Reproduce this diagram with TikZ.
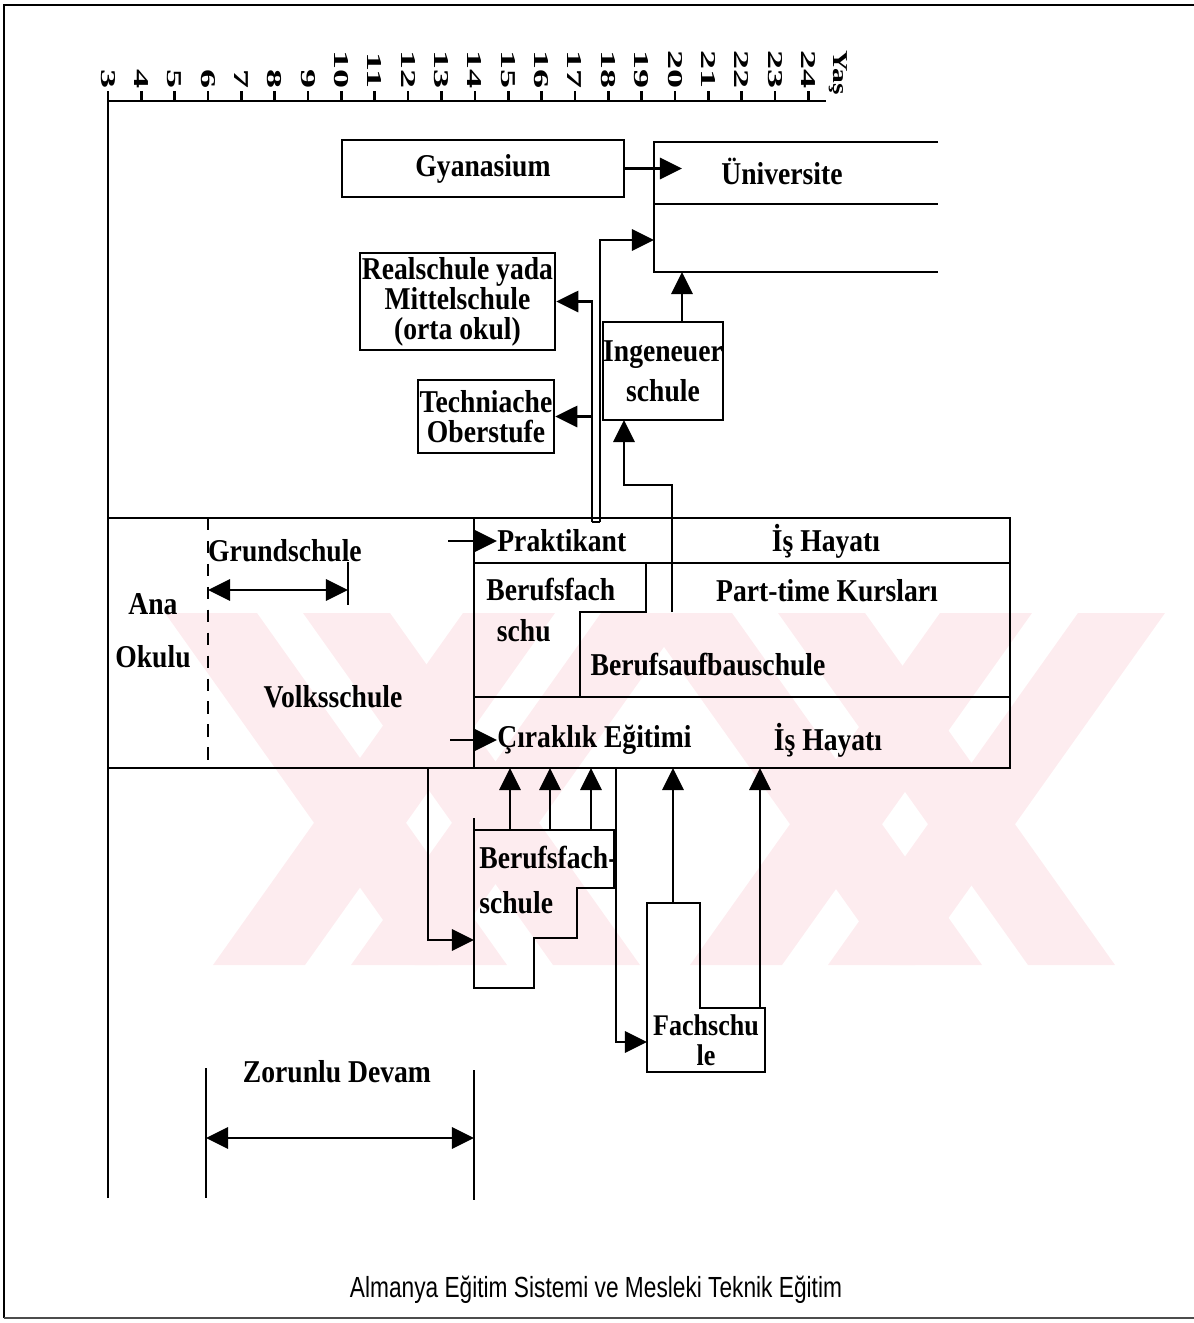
\documentclass[tikz,border=0pt]{standalone}
\usepackage{graphicx}
\usepackage{fontspec}
\setmainfont{Liberation Serif}
\newfontfamily\boxfont{Liberation Serif}[FakeStretch=0.87]
\newfontfamily\capfont{Liberation Sans}[FakeStretch=0.78]
\usetikzlibrary{arrows.meta}
\definecolor{wmark}{RGB}{253,236,239}
\newcommand{\pxu}{0.5669pt}

\tikzset{
  lab/.style={font=\boxfont\bfseries\fontsize{18}{17}\selectfont,inner sep=0pt,align=center},
  boxn/.style={lab,draw,line width=1.5pt},
  ln/.style={line width=1.5pt},
  arr/.style={line width=1.5pt,-{Triangle[length=12.5pt,width=12pt]}},
  darr/.style={line width=1.5pt,{Triangle[length=12.5pt,width=12pt]}-{Triangle[length=12.5pt,width=12pt]}},
  agelab/.style={font=\bfseries\fontsize{12}{12}\selectfont,rotate=-90,anchor=east,inner sep=0pt},
}

\begin{document}
\begin{tikzpicture}[x=0.5669pt,y=-0.5669pt,line join=miter]
\useasboundingbox (0,0) rectangle (1194,1323);

% watermark
\foreach \x/\d in {165/250,463/-250,640/250,940/-250} {
  \fill[wmark] (\x,613) -- ++(92,0) -- ++(\d,352) -- ++(-92,0) -- cycle;
  \fill[wmark] ({\x+138},613) -- ++(87,0) -- ++(\d,352) -- ++(-87,0) -- cycle;
}

% frame
\draw[line width=1.1pt] (4,1318) -- (4,5) -- (1194,5);
\draw[line width=1.1pt,black!70] (4,1318) -- (1194,1318);

% age axis
\draw[ln] (108,1198) -- (108,101) -- (826,101);
\foreach \a in {3,...,24} {
  \draw[ln] ({108+(\a-3)*33.35},91) -- ({108+(\a-3)*33.35},101);
  \node[agelab] (age\a) at ({108+(\a-3)*33.35},89) {\scalebox{1.8}[1]{\a}};
}
\node[agelab] (yas) at (838,95) {\scalebox{1.4}[1]{Yaş}};

% upper boxes
\node[boxn,minimum width=282*\pxu,minimum height=57*\pxu] (gym) at (483,168.5) {Gyanasium};
\draw[ln] (938,142) -- (654,142) -- (654,272) -- (938,272);
\draw[ln] (654,204) -- (938,204);
\node[lab] (uni) at (782,171) {Üniversite};
\coordinate (uniA) at (682,170);
\coordinate (uniB) at (654,240);
\coordinate (uniC) at (682,272);
\node[boxn,minimum width=195*\pxu,minimum height=97*\pxu] (real) at (457.5,301.5) {Realschule yada\\Mittelschule\\(orta okul)};
\node[boxn,minimum width=136*\pxu,minimum height=73*\pxu] (tech) at (486,416.5) {Techniache\\Oberstufe};
\node[boxn,minimum width=118*\pxu,minimum height=98*\pxu,font=\boxfont\bfseries\fontsize{18}{22.7}\selectfont] (ing) at (663,371) {Ingeneuer\\schule};

\draw[arr] (gym.east) -- (gym.east -| uniA);
\coordinate (dl) at (592,522);
\coordinate (dr) at (600,522);
\draw[ln] (dl) -- (dr);
\draw[arr] (dl) |- (real.east);
\draw[arr] (dl |- tech.east) -- (tech.east);
\draw[arr] (dr) |- (uniB);
\draw[arr] (ing.north -| uniC) -- (uniC);
\coordinate (pt) at (672,612);
\coordinate (ingIn) at (624,420);
\draw[arr] (pt) -- ++(0,-127) -| (ingIn);

% Volksschule and vocational bands
\draw[ln] (108,518) rectangle (1010,768);
\draw[ln] (474,518) -- (474,768);
\draw[ln] (474,563) -- (1010,563);
\draw[ln] (474,697) -- (1010,697);
\draw[ln] (646,563) -- (646,612) -- (580,612) -- (580,697);
\draw[line width=1.5pt,dash pattern=on 7pt off 6pt] (208,518) -- (208,768);

\node[lab,font=\boxfont\bfseries\fontsize{18}{30}\selectfont] (ana) at (153,631) {Ana\\Okulu};
\node[lab] (grund) at (285,551) {Grundschule};
\coordinate (g1) at (208,590);
\coordinate (g2) at (348,590);
\draw[darr] (g1) -- (g2);
\draw[ln] (g2) ++(0,-28) -- ++(0,43);
\node[lab] (volks) at (333,697) {Volksschule};

\coordinate (prakIn) at (448,541);
\node[lab,anchor=west] (prak) at (497,541) {Praktikant};
\draw[arr] (prakIn) -- (prak.west);
\node[lab] (isA) at (826,541) {İş Hayatı};
\node[lab,anchor=west,align=left,font=\boxfont\bfseries\fontsize{18}{22.7}\selectfont] (bfs) at (486,610) {Berufsfach\\\hspace{6pt}schu};
\node[lab] (ptk) at (827,591) {Part-time Kursları};
\node[lab] (bab) at (708,665) {Berufsaufbauschule};
\coordinate (cirIn) at (450,740);
\node[lab,anchor=west] (cir) at (497,740) {Çıraklık Eğitimi};
\draw[arr] (cirIn) -- (cir.west);
\node[lab] (isB) at (828,740) {İş Hayatı};

% lower schools
\coordinate (vsOut) at (428,768);
\coordinate (bfsIn) at (474,940);
\draw[arr] (vsOut) |- (bfsIn);
\draw[ln] (474,818) -- (474,988) -- (534,988) -- (534,938) -- (577,938) -- (577,888) -- (614,888) -- (614,830) -- (474,830);
\node[lab,anchor=west,align=left,font=\boxfont\bfseries\fontsize{18}{25.5}\selectfont] (bfs2) at (479,880) {Berufsfach-\\schule};
\foreach \x in {510,550,591}
  \draw[arr] (\x,830) -- (\x,768);

\coordinate (cirOut) at (616,768);
\coordinate (fachIn) at (647,1042);
\draw[arr] (cirOut) |- (fachIn);
\draw[ln] (647,903) -- (700,903) -- (700,1008) -- (765,1008) -- (765,1072) -- (647,1072) -- cycle;
\node[lab,font=\boxfont\bfseries\fontsize{17}{17}\selectfont] (fach) at (706,1040) {Fachschu\\le};
\draw[arr] (673,903) -- (673,768);
\draw[arr] (760,1008) -- (760,768);

% compulsory attendance
\coordinate (z1) at (206,1138);
\coordinate (z2) at (474,1138);
\draw[ln] (206,1068) -- (206,1198);
\draw[ln] (474,1070) -- (474,1200);
\draw[darr] (z1) -- (z2);
\node[lab] (zor) at (337,1072) {Zorunlu Devam};

\node[font=\capfont\fontsize{16.5}{18}\selectfont,inner sep=0pt] (cap) at (596,1290) {Almanya Eğitim Sistemi ve Mesleki Teknik Eğitim};
\end{tikzpicture}
\end{document}
